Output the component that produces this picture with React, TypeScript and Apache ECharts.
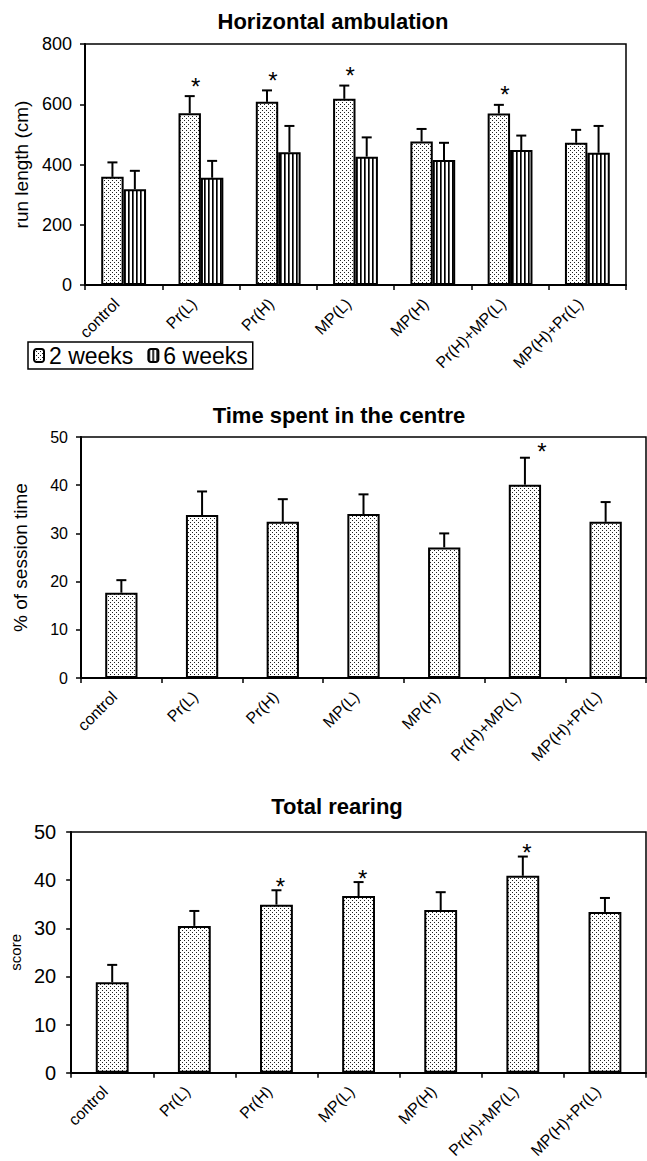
import React, { useEffect, useRef } from 'react';
import * as echarts from 'echarts';

const FONT = '"Liberation Sans", Arial, Helvetica, sans-serif';

const categories = ['control', 'Pr(L)', 'Pr(H)', 'MP(L)', 'MP(H)', 'Pr(H)+MP(L)', 'MP(H)+Pr(L)'];

// Horizontal ambulation (run length, cm)
const ambulation2w = [359, 570, 608, 618, 476, 569, 472];
const ambulation2wSem = [48, 57, 38, 44, 42, 29, 43];
const ambulation6w = [318, 356, 441, 426, 415, 448, 439];
const ambulation6wSem = [61, 56, 87, 64, 57, 48, 89];
const ambulationSig2w = [0, 1, 1, 1, 0, 1, 0];
const ambulationSig6w = [0, 0, 0, 0, 0, 0, 0];

// Time spent in the centre (% of session time)
const centreTime = [17.7, 33.8, 32.4, 34.0, 27.1, 40.1, 32.4];
const centreTimeSem = [2.6, 4.9, 4.7, 4.1, 2.9, 5.6, 4.1];
const centreTimeSig = [0, 0, 0, 0, 0, 1, 0];

// Total rearing (score)
const rearing = [18.8, 30.5, 34.9, 36.7, 33.8, 40.9, 33.4];
const rearingSem = [3.6, 3.1, 3.0, 2.9, 3.7, 4.0, 2.9];
const rearingSig = [0, 0, 1, 1, 0, 1, 0];

const legendNames = ['2 weeks', '6 weeks'];

function makeDots() {
  const c = document.createElement('canvas');
  c.width = 4; c.height = 4;
  const ctx = c.getContext('2d')!;
  ctx.fillStyle = '#ffffff'; ctx.fillRect(0, 0, 4, 4);
  ctx.fillStyle = '#222222';
  ctx.fillRect(0, 0, 1, 1);
  ctx.fillRect(2, 2, 1, 1);
  return { image: c, repeat: 'repeat', imageWidth: 4, imageHeight: 4 } as any;
}

function makeStripes() {
  const c = document.createElement('canvas');
  c.width = 4; c.height = 4;
  const ctx = c.getContext('2d')!;
  ctx.fillStyle = '#ffffff'; ctx.fillRect(0, 0, 4, 4);
  ctx.fillStyle = '#000000'; ctx.fillRect(0, 0, 1, 4);
  ctx.fillStyle = '#555555'; ctx.fillRect(1, 0, 1, 4);
  return { image: c, repeat: 'repeat', imageWidth: 4, imageHeight: 4 } as any;
}

function errorBars(name: string, gi: number, means: number[], sems: number[], sig: number[], offsetFrac: number, starDx: number, starDy: number) {
  return {
    type: 'custom',
    name,
    xAxisIndex: gi,
    yAxisIndex: gi,
    z: 5,
    silent: true,
    encode: { x: 0, y: 1 },
    data: means.map((m, i) => [i, m + sems[i], m, sig[i]]),
    renderItem: (params: any, api: any) => {
      const i = api.value(0);
      const top = api.coord([i, api.value(1)]);
      const base = api.coord([i, api.value(2)]);
      const band = api.size([1, 0])[0];
      const cx = base[0] + offsetFrac * band;
      const children: any[] = [
        { type: 'line', shape: { x1: cx, y1: base[1], x2: cx, y2: top[1] }, style: { stroke: '#000', lineWidth: 2 } },
        { type: 'line', shape: { x1: cx - 5, y1: top[1], x2: cx + 5, y2: top[1] }, style: { stroke: '#000', lineWidth: 2 } },
      ];
      if (api.value(3)) {
        children.push({
          type: 'text',
          x: cx + starDx,
          y: top[1] - starDy + 5,
          style: {
            text: '*', fill: '#000', fontSize: 24, fontFamily: FONT,
            align: 'center', verticalAlign: 'middle',
            textAlign: 'center', textVerticalAlign: 'middle',
          },
        });
      }
      return { type: 'group', children };
    },
  };
}

function xAxisFor(gi: number) {
  return {
    type: 'category',
    gridIndex: gi,
    data: categories,
    axisLine: { show: true, lineStyle: { color: '#000', width: 2 } },
    axisTick: { show: true, length: 5, lineStyle: { color: '#000', width: 1.5 } },
    axisLabel: {
      interval: 0, rotate: 45, fontSize: 16, color: '#000', fontFamily: FONT,
      margin: 9, padding: [0, 10, 0, 0],
    },
  };
}

function yAxisFor(gi: number, max: number, interval: number, name: string, fontSize: number, nameSize: number, nameGap: number, margin: number) {
  return {
    type: 'value',
    gridIndex: gi,
    min: 0,
    max,
    interval,
    name,
    nameLocation: 'middle',
    nameGap,
    nameTextStyle: { fontSize: nameSize, color: '#000', fontFamily: FONT },
    axisLine: { show: true, lineStyle: { color: '#000', width: 2 } },
    axisTick: { show: true, length: 5, lineStyle: { color: '#000', width: 1.5 } },
    axisLabel: { fontSize, color: '#000', fontFamily: FONT, margin },
    splitLine: { show: false },
  };
}

export default function App() {
  const ref = useRef<HTMLDivElement>(null);
  useEffect(() => {
    if (!ref.current) return;
    const chart = echarts.init(ref.current, null, { renderer: 'svg' });
    const dots = makeDots();
    const stripes = makeStripes();
    const barStyle2 = { color: dots, borderColor: '#000', borderWidth: 2 };
    const barStyle6 = { color: stripes, borderColor: '#000', borderWidth: 2 };
    const titleStyle = { fontSize: 22, fontWeight: 'bold', color: '#000', fontFamily: FONT };

    chart.setOption({
      animation: false,
      backgroundColor: '#fff',
      title: [
        { text: 'Horizontal ambulation', left: 333, top: 10, textAlign: 'center', padding: 0, textStyle: titleStyle },
        { text: 'Time spent in the centre', left: 339, top: 404, textAlign: 'center', padding: 0, textStyle: titleStyle },
        { text: 'Total rearing', left: 337, top: 795, textAlign: 'center', padding: 0, textStyle: titleStyle },
      ],
      legend: {
        data: legendNames,
        left: 28,
        top: 342,
        orient: 'horizontal',
        borderColor: '#000',
        borderWidth: 1.5,
        padding: [2, 5],
        itemGap: 14,
        itemWidth: 10,
        itemHeight: 13,
        textStyle: { fontSize: 23, color: '#000', fontFamily: FONT },
        selectedMode: false,
      },
      grid: [
        { left: 85, top: 44, width: 541, height: 241, show: true, borderColor: '#000', borderWidth: 1.5 },
        { left: 81, top: 437, width: 565, height: 241, show: true, borderColor: '#000', borderWidth: 1.5 },
        { left: 69, top: 832, width: 577, height: 245, show: true, borderColor: '#000', borderWidth: 1.5 },
      ],
      xAxis: [xAxisFor(0), xAxisFor(1), xAxisFor(2)],
      yAxis: [
        yAxisFor(0, 800, 200, 'run length (cm)', 18, 19, 50, 13),
        yAxisFor(1, 50, 10, '% of session time', 16, 19, 51, 13),
        yAxisFor(2, 50, 10, 'score', 20, 15, 41, 15),
      ],
      series: [
        { type: 'bar', name: '2 weeks', xAxisIndex: 0, yAxisIndex: 0, data: ambulation2w, barWidth: '29%', barGap: '0%', itemStyle: barStyle2 },
        { type: 'bar', name: '6 weeks', xAxisIndex: 0, yAxisIndex: 0, data: ambulation6w, barWidth: '29%', barGap: '0%', itemStyle: barStyle6 },
        errorBars('ambulation 2w error', 0, ambulation2w, ambulation2wSem, ambulationSig2w, -0.145, 6, 15),
        errorBars('ambulation 6w error', 0, ambulation6w, ambulation6wSem, ambulationSig6w, 0.145, 6, 15),
        { type: 'bar', name: 'Time in centre', xAxisIndex: 1, yAxisIndex: 1, data: centreTime, barWidth: '40%', itemStyle: barStyle2 },
        errorBars('centre error', 1, centreTime, centreTimeSem, centreTimeSig, 0, 17, 11),
        { type: 'bar', name: 'Total rearing', xAxisIndex: 2, yAxisIndex: 2, data: rearing, barWidth: '40%', itemStyle: barStyle2 },
        errorBars('rearing error', 2, rearing, rearingSem, rearingSig, 0, 4, 9),
      ],
    });
    return () => chart.dispose();
  }, []);
  return <div ref={ref} style={{ position: 'fixed', left: 0, top: 0, width: 647, height: 1161 }} />;
}
